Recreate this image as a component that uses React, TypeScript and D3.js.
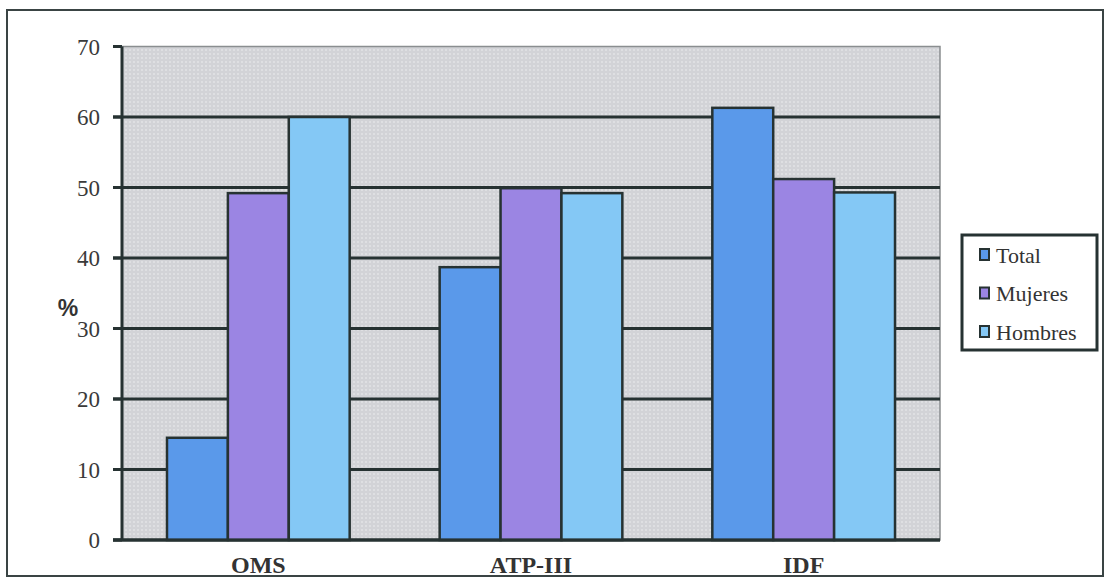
import React from "react";
import * as d3 from "d3";

const categories = ["OMS", "ATP-III", "IDF"];
const seriesNames = ["Total", "Mujeres", "Hombres"];
const totalValues = [14.5, 38.7, 61.3];
const mujeresValues = [49.2, 49.9, 51.2];
const hombresValues = [60, 49.2, 49.3];
const yTicks = [0, 10, 20, 30, 40, 50, 60, 70];
const seriesColors = ["#5a99ea", "#9b85e3", "#84c8f5"];

const allValues = [totalValues, mujeresValues, hombresValues];

export default function App() {
  const W = 1110, H = 577;
  const left = 122, right = 940, top = 46.5, bottom = 540;
  const y = d3.scaleLinear().domain([0, 70]).range([bottom, top]);
  const x0 = d3.scaleBand<string>().domain(categories).range([left, right]).padding(0);
  const bw = x0.bandwidth();
  const gw = bw * 0.67;
  const x1 = d3.scaleBand<string>().domain(seriesNames).range([(bw - gw) / 2, (bw + gw) / 2]).padding(0);
  const dark = "#263232";
  const font = "Liberation Serif, DejaVu Serif, serif";

  return (
    <svg width={W} height={H} style={{ position: "absolute", left: 0, top: 0, background: "#fff" }}>
      <defs>
        <pattern id="dots" width="4" height="4" patternUnits="userSpaceOnUse">
          <rect width="4" height="4" fill="#d2d3d7" />
          <circle cx="2" cy="2" r="0.9" fill="#e4e5e8" />
        </pattern>
      </defs>
      <rect x={7} y={10} width={1096} height={566} fill="#fff" stroke="#3a4444" strokeWidth={2} />
      <rect x={left} y={top} width={right - left} height={bottom - top} fill="url(#dots)" stroke="#8a8e90" strokeWidth={1.5} />
      {yTicks.map((t) => (
        <g key={t}>
          {t !== 70 && <line x1={left - 9} x2={right} y1={y(t)} y2={y(t)} stroke={dark} strokeWidth={3} />}
          <line x1={left - 9} x2={left} y1={y(t)} y2={y(t)} stroke={dark} strokeWidth={3} />
          <text x={100} y={y(t)} dy="0.35em" textAnchor="end" style={{ fontFamily: font }} fontSize={23} fill="#3a3a3a">{t}</text>
        </g>
      ))}
      {categories.map((c, ci) => (
        <g key={c} transform={`translate(${x0(c)},0)`}>
          {seriesNames.map((s, si) => (
            <rect key={s} x={x1(s)} y={y(allValues[si][ci])} width={x1.bandwidth()} height={bottom - y(allValues[si][ci])}
              fill={seriesColors[si]} stroke={dark} strokeWidth={2.5} />
          ))}
          <text x={bw / 2} y={573} textAnchor="middle" style={{ fontFamily: font }} fontWeight="bold" fontSize={24} fill="#333">{c}</text>
        </g>
      ))}
      <line x1={left} x2={left} y1={top} y2={bottom} stroke={dark} strokeWidth={3} />
      <line x1={left - 9} x2={right} y1={bottom} y2={bottom} stroke={dark} strokeWidth={3} />
      <text x={68} y={316} textAnchor="middle" style={{ fontFamily: "Liberation Sans, Arial, sans-serif" }} fontWeight="bold" fontSize={23} fill="#333">%</text>
      <rect x={962} y={235} width={135} height={115} fill="#fff" stroke={dark} strokeWidth={3} />
      {seriesNames.map((s, i) => (
        <g key={s}>
          <rect x={980} y={249 + i * 38.5} width={9} height={11} fill={seriesColors[i]} stroke={dark} strokeWidth={2} />
          <text x={996} y={255 + i * 38.5} dy="0.35em" style={{ fontFamily: font }} fontSize={22} fill="#333">{s}</text>
        </g>
      ))}
    </svg>
  );
}
